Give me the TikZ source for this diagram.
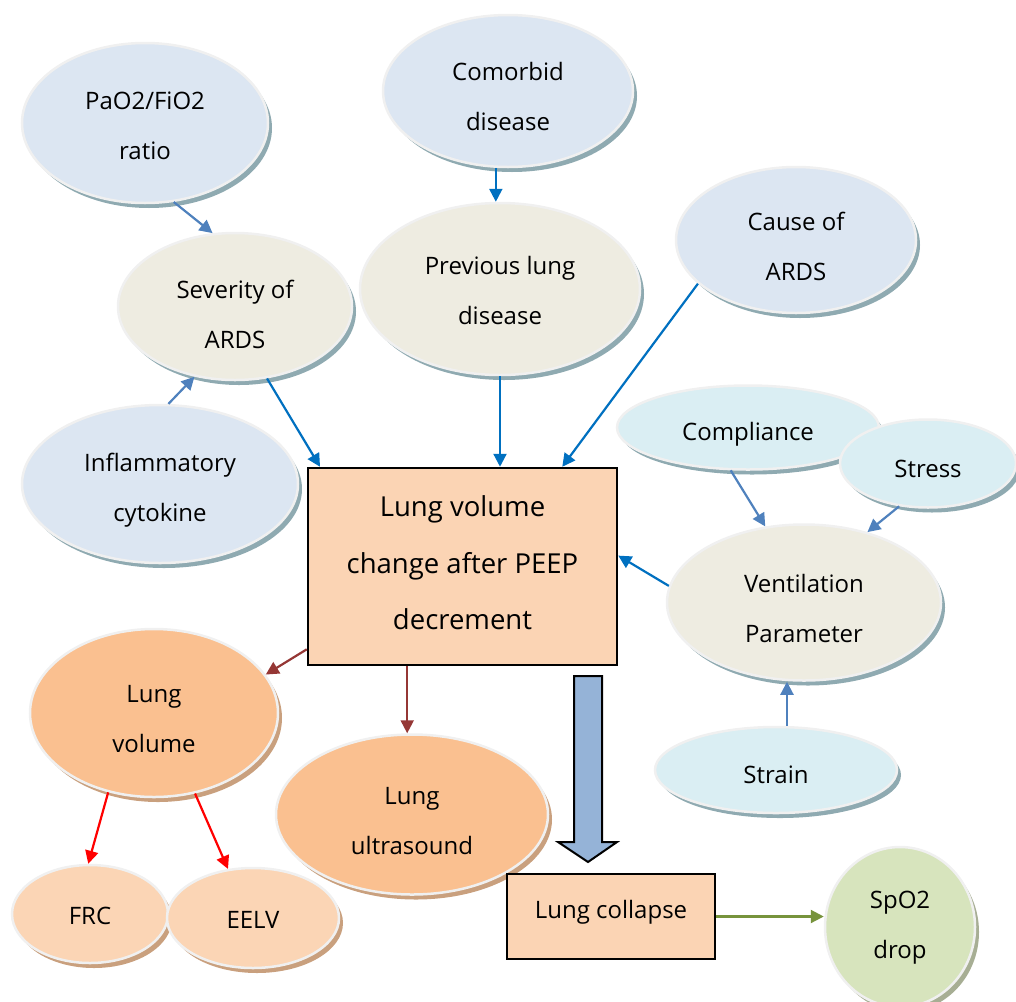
\documentclass[tikz,border=0pt]{standalone}
\usepackage{fontspec}
\setmainfont{Open Sans}
\usetikzlibrary{arrows.meta,shapes.geometric,shadows}

\definecolor{paleblue}{HTML}{DCE6F2}
\definecolor{beige}{HTML}{EEECE1}
\definecolor{aqua}{HTML}{DAEEF3}
\definecolor{peach}{HTML}{FAC090}
\definecolor{lightpeach}{HTML}{FBD5B5}
\definecolor{sage}{HTML}{D7E4BD}
\definecolor{coolshadow}{HTML}{8FAAB1}
\definecolor{warmshadow}{HTML}{C9A07E}
\definecolor{greenshadow}{HTML}{A7AE94}
\definecolor{boxfill}{HTML}{FBD4B4}
\definecolor{linkblue}{HTML}{0070C0}
\definecolor{softblue}{HTML}{4F81BD}
\definecolor{darkred}{HTML}{953735}
\definecolor{olive}{HTML}{77933C}
\definecolor{bigarrow}{HTML}{95B3D7}

% \lead: invisible strut of height \liftamt on the first text line; together with a
% fixed 20pt depth strut on the last line it sets where the text sits in its shape
\def\liftamt{49}
\newcommand\lead{\rule{0pt}{\liftamt pt}}
\tikzset{
  dims/.style 2 args={minimum width=#1pt, minimum height=#2pt},
  lift/.code={\def\liftamt{#1}},
  struts/.style={execute at end node={\rule[-20pt]{0pt}{0pt}}},
  % the negative vertical inner sep keeps the struts from enlarging the ellipse
  bubble/.style={ellipse, draw=white!94!black, line width=2.5pt, inner xsep=0pt,
    inner ysep=-30pt, align=center, font=\fontsize{24}{50}\selectfont, struts, lift=49},
  cool/.style={bubble, general shadow={fill=coolshadow, shadow xshift=4pt, shadow yshift=-5pt}},
  warm/.style={bubble, general shadow={fill=warmshadow, shadow xshift=4pt, shadow yshift=-5pt}},
  greenish/.style={bubble, general shadow={fill=greenshadow, shadow xshift=4pt, shadow yshift=-5pt}},
  panel/.style={rectangle, draw=black, line width=2.5pt, fill=boxfill, inner sep=0pt,
    align=center, struts},
  link/.style={line width=2.2pt, -{Triangle[length=13pt,width=13pt]}},
  bluelink/.style={link, draw=linkblue, fill=linkblue},
  softlink/.style={link, draw=softblue, fill=softblue},
  redlink/.style={link, draw=red, fill=red},
  brownlink/.style={link, draw=darkred, fill=darkred},
  greenlink/.style={link, draw=olive, fill=olive},
}

\begin{document}
\begin{tikzpicture}[x=1pt,y=-1pt]
\useasboundingbox (0,0) rectangle (1016,1001);

% causes of lung volume change
\node[cool, fill=paleblue, dims={246}{160}, lift=43] (pao) at (145,123) {\lead PaO2/FiO2\\ratio};
\node[cool, fill=paleblue, dims={250}{152}] (com) at (508,91) {\lead Comorbid\\disease};
\node[cool, fill=beige, dims={234}{147}, lift=53] (sev) at (235,306.5) {\lead Severity of\\ARDS};
\node[cool, fill=beige, dims={280}{172}, lift=41] (prev) at (500,289) {\lead Previous lung\\disease};
\node[cool, fill=paleblue, dims={240}{146}, lift=50] (cause) at (796,240) {\lead Cause of\\ARDS};
\node[cool, fill=paleblue, dims={276}{158}, lift=45] (infl) at (160,484) {\lead Inflammatory\\cytokine};

% central box
\node[panel, dims={309}{197}, font=\fontsize{27.5}{56.5}\selectfont, lift=33] (main) at (462.5,566.5)
  {\lead Lung volume\\change after PEEP\\decrement};

% ventilation parameters
\node[cool, fill=aqua, dims={262}{84}, lift=46] (comp) at (748,427.5) {\lead Compliance};
\node[cool, fill=aqua, dims={176}{88}, lift=48] (stress) at (928,463.5) {\lead Stress};
\node[cool, fill=beige, dims={274}{156}] (vent) at (804,602.5) {\lead Ventilation\\Parameter};
\node[cool, fill=aqua, dims={242}{86}, lift=47] (strain) at (776,770) {\lead Strain};

% measurements
\node[warm, fill=peach, dims={248}{168}] (lv) at (154,713) {\lead Lung\\volume};
\node[warm, fill=peach, dims={272}{160}] (us) at (412,814.5) {\lead Lung\\ultrasound};
\node[warm, fill=lightpeach, dims={156}{98}, lift=41] (frc) at (90,914) {\lead FRC};
\node[warm, fill=lightpeach, dims={172}{100}, lift=41] (eelv) at (253,918) {\lead EELV};

% outcome
\node[panel, dims={208}{85}, font=\fontsize{24}{50}\selectfont, lift=23] (col) at (611,916.5) {\lead Lung collapse};
\node[greenish, fill=sage, dims={150}{160}, lift=33] (spo) at (900,927) {\lead SpO2\\drop};

% block arrow from the central box down to lung collapse
\filldraw[fill=bigarrow, draw=black, line width=2pt]
  (574,676) -- (602,676) -- (602,842) -- (617,842) -- (588,862) -- (558,842) -- (574,842) -- cycle;

% connectors
\draw[softlink] (pao.-70) -- (sev.107);
\draw[softlink] (infl.84) -- (sev.-120);
\draw[bluelink] (sev.-66) -- (main.145);
\draw[bluelink] (com.-99) -- (com.-99 |- prev.north);
\draw[bluelink] (prev.south) -- (prev.south |- main.north);
\draw[bluelink] (cause.-156) -- (main.45);
\draw[bluelink] (vent.173) -- (main.4);
\draw[softlink] (comp.-112) -- (vent.117);
\draw[softlink] (stress.-124) -- (vent.48);
\draw[softlink] (strain.76) -- (strain.76 |- vent.south);
\draw[brownlink] (main.-152) -- (lv.19);
\draw[brownlink] (main.-119) -- (main.-119 |- us.north);
\draw[redlink] (lv.-120) -- (frc.92);
\draw[redlink] (lv.-63) -- (eelv.117);
\draw[greenlink] (col.east) -- (col.east -| spo.west);
\end{tikzpicture}
\end{document}
